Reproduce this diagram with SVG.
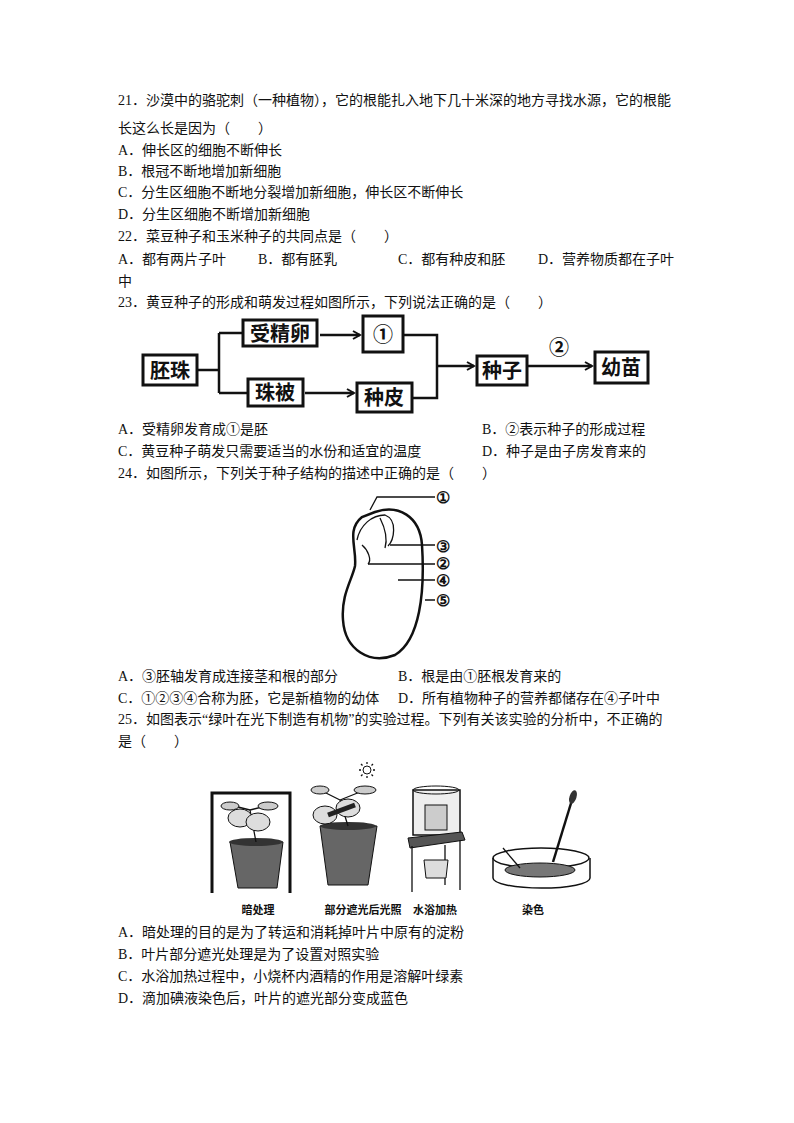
<svg xmlns="http://www.w3.org/2000/svg" width="794" height="1123" viewBox="0 0 794 1123">
<style>
.t{font-family:"Liberation Serif","Noto Sans CJK SC",serif;font-size:14px;fill:#111}
.b{font-family:"Noto Sans CJK SC",sans-serif;font-size:20px;font-weight:bold;fill:#111}
.s{font-family:"Noto Sans CJK SC",sans-serif;font-size:11px;font-weight:bold;fill:#111}
.bx{fill:#fff;stroke:#111;stroke-width:3}
.ln{fill:none;stroke:#111;stroke-width:2.5}
.th{fill:none;stroke:#111;stroke-width:1.3}
</style>
<defs>
<marker id="ar" markerWidth="10" markerHeight="10" refX="8" refY="5" orient="auto" markerUnits="userSpaceOnUse"><path d="M1,1 L8,5 L1,9" fill="none" stroke="#111" stroke-width="2"/></marker>
</defs>
<rect width="794" height="1123" fill="#fff"/>
<g id="text">
<text class="t" x="118" y="105">21．沙漠中的骆驼刺（一种植物），它的根能扎入地下几十米深的地方寻找水源，它的根能</text>
<text class="t" x="118" y="133">长这么长是因为（　　）</text>
<text class="t" x="118" y="155">A．伸长区的细胞不断伸长</text>
<text class="t" x="118" y="176">B．根冠不断地增加新细胞</text>
<text class="t" x="118" y="197">C．分生区细胞不断地分裂增加新细胞，伸长区不断伸长</text>
<text class="t" x="118" y="219">D．分生区细胞不断增加新细胞</text>
<text class="t" x="118" y="241">22．菜豆种子和玉米种子的共同点是（　　）</text>
<text class="t" x="118" y="264">A．都有两片子叶</text>
<text class="t" x="258" y="264">B．都有胚乳</text>
<text class="t" x="398" y="264">C．都有种皮和胚</text>
<text class="t" x="538" y="264">D．营养物质都在子叶</text>
<text class="t" x="118" y="286">中</text>
<text class="t" x="118" y="307">23．黄豆种子的形成和萌发过程如图所示，下列说法正确的是（　　）</text>
<text class="t" x="118" y="434">A．受精卵发育成①是胚</text>
<text class="t" x="482" y="434">B．②表示种子的形成过程</text>
<text class="t" x="118" y="456">C．黄豆种子萌发只需要适当的水份和适宜的温度</text>
<text class="t" x="482" y="456">D．种子是由子房发育来的</text>
<text class="t" x="118" y="478">24．如图所示，下列关于种子结构的描述中正确的是（　　）</text>
<text class="t" x="118" y="681">A．③胚轴发育成连接茎和根的部分</text>
<text class="t" x="398" y="681">B．根是由①胚根发育来的</text>
<text class="t" x="118" y="703">C．①②③④合称为胚，它是新植物的幼体</text>
<text class="t" x="398" y="703">D．所有植物种子的营养都储存在④子叶中</text>
<text class="t" x="118" y="724">25．如图表示“绿叶在光下制造有机物”的实验过程。下列有关该实验的分析中，不正确的</text>
<text class="t" x="118" y="746">是（　　）</text>
<text class="t" x="118" y="937">A．暗处理的目的是为了转运和消耗掉叶片中原有的淀粉</text>
<text class="t" x="118" y="959">B．叶片部分遮光处理是为了设置对照实验</text>
<text class="t" x="118" y="981">C．水浴加热过程中，小烧杯内酒精的作用是溶解叶绿素</text>
<text class="t" x="118" y="1003">D．滴加碘液染色后，叶片的遮光部分变成蓝色</text>
</g>
<g id="connectors">
<path class="ln" d="M197,370 H219 M219,333 V393 M219,333 H243 M219,393 H248"/>
<path class="ln" d="M320,335 H360" marker-end="url(#ar)"/>
<path class="ln" d="M305,393 H354" marker-end="url(#ar)"/>
<path class="ln" d="M403,335 H437 V398 H412"/>
<path class="ln" d="M437,366 H474" marker-end="url(#ar)"/>
<path class="ln" d="M527,366 H592" marker-end="url(#ar)"/>
</g>
<g id="n-peizhu"><rect class="bx" x="143" y="355" width="54" height="30"/><text class="b" x="170" y="378" text-anchor="middle">胚珠</text></g>
<g id="n-shoujingluan"><rect class="bx" x="243" y="320" width="74" height="26"/><text class="b" x="280" y="341" text-anchor="middle">受精卵</text></g>
<g id="n-1"><rect class="bx" x="363" y="316" width="40" height="36"/><text class="b" x="383" y="342" text-anchor="middle">①</text></g>
<g id="n-zhubei"><rect class="bx" x="248" y="379" width="55" height="27"/><text class="b" x="275" y="400" text-anchor="middle">珠被</text></g>
<g id="n-zhongpi"><rect class="bx" x="357" y="383" width="55" height="29"/><text class="b" x="384" y="405" text-anchor="middle">种皮</text></g>
<g id="n-zhongzi"><rect class="bx" x="477" y="356" width="50" height="29"/><text class="b" x="502" y="378" text-anchor="middle">种子</text></g>
<g id="n-2"><text class="b" x="559" y="355" text-anchor="middle">②</text></g>
<g id="n-youmiao"><rect class="bx" x="595" y="352" width="53" height="31"/><text class="b" x="621" y="375" text-anchor="middle">幼苗</text></g>
<g id="seed">
<path d="M375,512 C398,504 420,516 422,545 C425,592 420,640 395,655 C370,665 345,650 343,620 C341,595 352,580 355,566 C357,548 346,530 362,517 Z" fill="none" stroke="#111" stroke-width="2.5"/>
<path class="th" d="M357,540 C360,525 372,515 385,515 C398,520 394,540 388,546 M380,518 C385,528 388,538 385,548 M362,545 C368,550 372,560 368,564"/>
<path class="th" d="M370,510 L377,497 H435 M390,545 H435 M368,564 H435 M398,580 H435 M425,600 H435"/>
<g font-family="Liberation Sans,sans-serif" font-size="16" font-weight="bold" text-anchor="middle" fill="#111">
<text x="443" y="503">①</text><text x="443" y="552">③</text><text x="443" y="569">②</text><text x="443" y="586">④</text><text x="443" y="606">⑤</text></g>
</g>
<g id="pic1">
<path d="M212,893 V793 H290 V893" fill="none" stroke="#111" stroke-width="3"/>
<path d="M230,842 H283 L277,888 H238 Z" fill="#666" stroke="#111"/>
<ellipse cx="256" cy="842" rx="27" ry="4" fill="#333"/>
<path class="th" d="M256,842 L250,810 M250,810 L230,805 M250,810 L270,805"/>
<ellipse cx="240" cy="818" rx="12" ry="9" fill="#ddd" stroke="#111"/><ellipse cx="258" cy="822" rx="12" ry="9" fill="#ddd" stroke="#111"/><ellipse cx="230" cy="806" rx="9" ry="4" fill="#ccc" stroke="#111"/><ellipse cx="268" cy="806" rx="10" ry="4" fill="#ccc" stroke="#111"/>
<text class="s" x="258" y="914" text-anchor="middle">暗处理</text>
</g>
<g id="pic2">
<path d="M320,826 H377 L368,885 H328 Z" fill="#666" stroke="#111"/>
<ellipse cx="348" cy="826" rx="28" ry="4" fill="#333"/>
<path class="th" d="M348,826 L340,800 M340,800 L320,790 M340,800 L365,790"/>
<ellipse cx="325" cy="815" rx="12" ry="9" fill="#ddd" stroke="#111"/><ellipse cx="348" cy="808" rx="12" ry="9" fill="#ddd" stroke="#111"/><ellipse cx="320" cy="790" rx="9" ry="4" fill="#ccc" stroke="#111"/><ellipse cx="365" cy="790" rx="11" ry="4" fill="#ccc" stroke="#111"/>
<path d="M328,815 L355,805" stroke="#222" stroke-width="5"/>
<circle cx="367" cy="770" r="4" fill="none" stroke="#111"/>
<path class="th" d="M367,762 V764 M367,776 V778 M359,770 H361 M373,770 H375 M361,764 L362.5,765.5 M371.5,774.5 L373,776 M373,764 L371.5,765.5 M362.5,774.5 L361,776"/>
<text class="s" x="363" y="914" text-anchor="middle">部分遮光后光照</text>
</g>
<g id="pic3">
<rect x="413" y="790" width="47" height="45" fill="#eee" stroke="#111" stroke-width="1.5"/>
<ellipse cx="436" cy="790" rx="23" ry="4" fill="none" stroke="#111"/>
<rect x="425" y="805" width="22" height="25" fill="#ccc" stroke="#111"/>
<path d="M408,838 L462,832 L465,840 L410,848 Z" fill="#555" stroke="#111"/>
<path class="th" d="M412,846 V892 M460,840 V890 M445,845 V885"/>
<path d="M424,860 H448 L446,878 H426 Z" fill="#ddd" stroke="#111"/>
<text class="s" x="435" y="914" text-anchor="middle">水浴加热</text>
</g>
<g id="pic4">
<path d="M493,858 V878 A48,10 0 0 0 590,878 V858" fill="none" stroke="#111" stroke-width="1.5"/>
<ellipse cx="541" cy="858" rx="48" ry="10" fill="none" stroke="#111" stroke-width="1.5"/>
<ellipse cx="540" cy="870" rx="35" ry="7" fill="#777" stroke="#111"/>
<path d="M553,862 L572,800" stroke="#111" stroke-width="2.5"/>
<ellipse cx="573" cy="797" rx="3.5" ry="7" fill="#333" transform="rotate(18 573 797)"/>
<path class="th" d="M503,848 L520,868"/>
<text class="s" x="533" y="914" text-anchor="middle">染色</text>
</g>
</svg>
